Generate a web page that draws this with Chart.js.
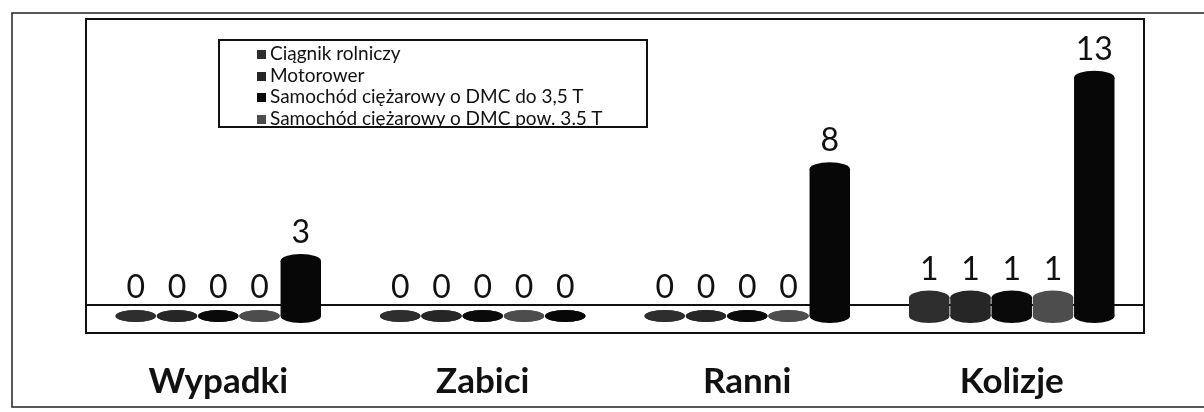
<!DOCTYPE html>
<html>
<head>
<meta charset="utf-8">
<script src="https://cdn.jsdelivr.net/npm/chart.js@4"></script>
<style>
  body { margin: 0; background: #fff; }
  #wrap { position: relative; width: 1204px; height: 412px; }
  #legenda {
    position: absolute; left: 218px; top: 39px; width: 430px; height: 89px;
    border: 2px solid #111; background: #fff; box-sizing: border-box;
    font-family: Lato, "Liberation Sans", sans-serif; font-size: 19px; color: #111;
    padding: 1px 0 0 37px; line-height: 21.5px; white-space: nowrap;
  }
  #legenda span.kw { display: inline-block; width: 9px; height: 9px; margin-right: 4px; vertical-align: 1px; }
</style>
</head>
<body>
<div id="wrap">
  <canvas id="wykres" width="1204" height="412"></canvas>
  <div id="legenda"></div>
</div>
<script>
var kategorie = ['Wypadki', 'Zabici', 'Ranni', 'Kolizje'];
var nazwy = ['Ciągnik rolniczy', 'Motorower', 'Samochód ciężarowy o DMC do 3,5 T', 'Samochód ciężarowy o DMC pow. 3.5 T', 'Samochód osobowy'];
var ciagnik = [0, 0, 0, 1];
var motorower = [0, 0, 0, 1];
var ciezarowyDo35 = [0, 0, 0, 1];
var ciezarowyPow35 = [0, 0, 0, 1];
var osobowy = [3, 0, 8, 13];
var kolory = ['#2e2e2e', '#262626', '#0a0a0a', '#4d4d4d', '#070707'];
var wLegendzie = 4; // piaty zestaw nie jest w legendzie

var dane = [ciagnik, motorower, ciezarowyDo35, ciezarowyPow35, osobowy];

// legenda w html
var leg = document.getElementById('legenda');
for (var i = 0; i < wLegendzie; i++) {
    leg.innerHTML += '<div><span class="kw" style="background:' + kolory[i] + '"></span>' + nazwy[i] + '</div>';
}

// ramki, linia podlogi, walce i etykiety wartosci
var walce = {
    id: 'walce',
    beforeDraw(chart) {
        var c = chart.ctx, a = chart.chartArea;
        c.save();
        c.strokeStyle = '#222';
        c.lineWidth = 1.5;
        c.beginPath();
        c.moveTo(1204, 13); c.lineTo(12, 13); c.lineTo(12, 407); c.lineTo(1204, 407);
        c.stroke();
        c.lineWidth = 2;
        c.strokeStyle = '#111';
        c.strokeRect(a.left, a.top, a.right - a.left, a.bottom - a.top);
        var yp = chart.scales.y.getPixelForValue(0.6);
        c.beginPath();
        c.moveTo(a.left, yp); c.lineTo(a.right, yp);
        c.stroke();
        c.restore();
    },
    afterDatasetsDraw(chart) {
        var c = chart.ctx;
        c.save();
        chart.data.datasets.forEach(function (ds, di) {
            var meta = chart.getDatasetMeta(di);
            meta.data.forEach(function (el, j) {
                var p = el.getProps(['x', 'y', 'base', 'width'], true);
                var rx = p.width / 2, ry = ds.data[j] == 0 ? 6 : 7;
                c.fillStyle = ds.backgroundColor;
                c.beginPath();
                c.ellipse(p.x, p.base, rx, ry, 0, 0, Math.PI * 2);
                c.fill();
                c.beginPath();
                c.ellipse(p.x, p.y, rx, ry, 0, 0, Math.PI * 2);
                c.fill();
                c.fillStyle = '#111';
                c.font = '32px Lato, "Liberation Sans", sans-serif';
                c.textAlign = 'center';
                c.textBaseline = 'alphabetic';
                c.fillText(String(ds.data[j]), p.x, p.y - 18);
            });
        });
        c.restore();
    }
};

new Chart(document.getElementById('wykres'), {
    type: 'bar',
    data: {
        labels: kategorie,
        datasets: dane.map(function (d, i) {
            return { label: nazwy[i], data: d, backgroundColor: kolory[i], borderWidth: 0,
                     categoryPercentage: 0.78, barPercentage: 0.98 };
        })
    },
    options: {
        responsive: false,
        animation: false,
        layout: { padding: { left: 86, right: 60, top: 19, bottom: 0 } },
        plugins: { legend: { display: false }, tooltip: { enabled: false } },
        scales: {
            x: {
                grid: { display: false, drawTicks: false },
                border: { display: false },
                ticks: { padding: 28, color: '#111',
                         font: { family: 'Lato, "Liberation Sans", sans-serif', size: 35, weight: 'bold' } },
                afterFit: function (s) { s.height = 79; }
            },
            y: { display: false, min: -0.93, max: 16.2 }
        }
    },
    plugins: [walce]
});
</script>
</body>
</html>
